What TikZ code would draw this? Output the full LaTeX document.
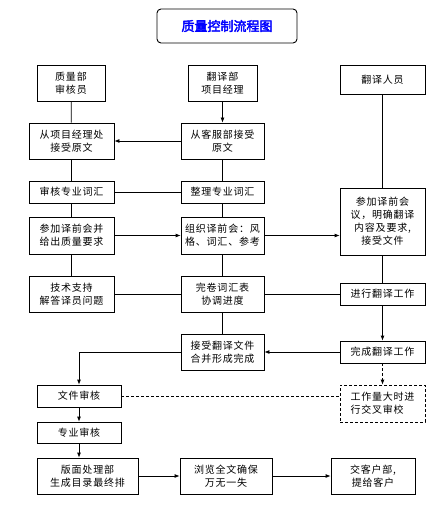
\documentclass[tikz,border=0pt]{standalone}
\usepackage{fontspec}
\newfontfamily\cjk{Noto Sans CJK SC}[AutoFakeBold=3]
\newfontfamily\cjkbox{Noto Sans CJK SC}[LetterSpace=8]
\usetikzlibrary{arrows.meta}
\tikzset{
  box/.style={draw, line width=0.8pt, inner sep=0pt, align=center, font=\cjkbox\fontsize{10}{13}\selectfont},
  dbox/.style={box, dashed, dash pattern=on 3pt off 2pt},
  conn/.style={line width=0.8pt},
  arr/.style={line width=0.8pt, -{Latex[length=5pt,width=4pt]}},
  darr/.style={arr, dash pattern=on 3pt off 2pt},
}
\begin{document}
\begin{tikzpicture}[x=1pt,y=-1pt]
\useasboundingbox (0,0) rectangle (437,513);
% title
\node[draw, line width=0.9pt, rounded corners=4pt, minimum width=140pt, minimum height=34pt, inner sep=0pt,
  font=\cjk\bfseries\fontsize{13}{15}\selectfont, text=blue] (title) at (227,26) {质量控制流程图};
% left column
\node[box, minimum width=68pt, minimum height=36pt] (b1) at (71,83) {质量部\\审核员};
\node[box, minimum width=85pt, minimum height=36pt] (b2) at (71.5,141) {从项目经理处\\接受原文};
\node[box, minimum width=85pt, minimum height=22pt] (b3) at (71.5,192) {审核专业词汇};
\node[box, minimum width=85pt, minimum height=37pt] (b4) at (71.5,235.5) {参加译前会并\\给出质量要求};
\node[box, minimum width=85pt, minimum height=36pt] (b5) at (71.5,294) {技术支持\\解答译员问题};
% middle column
\node[box, minimum width=69pt, minimum height=36pt] (m1) at (222.5,83) {翻译部\\项目经理};
\node[box, minimum width=83pt, minimum height=36pt] (m2) at (222.5,141) {从客服部接受\\原文};
\node[box, minimum width=83pt, minimum height=22pt] (m3) at (222.5,192) {整理专业词汇};
\node[box, minimum width=83pt, minimum height=37pt] (m4) at (222.5,235.5) {组织译前会：风\\格、词汇、参考};
\node[box, minimum width=83pt, minimum height=36pt] (m5) at (222.5,294) {完卷词汇表\\协调进度};
\node[box, minimum width=83pt, minimum height=36pt] (m6) at (222.5,352) {接受翻译文件\\合并形成完成};
% right column
\node[box, minimum width=85pt, minimum height=29pt] (r1) at (382.5,79.5) {翻译人员};
\node[box, minimum width=85pt, minimum height=67pt] (r2) at (382.5,221.5) {参加译前会\\议，明确翻译\\内容及要求,\\接受文件};
\node[box, minimum width=85pt, minimum height=22pt] (r3) at (382.5,294) {进行翻译工作};
\node[box, minimum width=85pt, minimum height=22pt] (r4) at (382.5,352) {完成翻译工作};
\node[dbox, minimum width=85pt, minimum height=37pt, align=left] (r5) at (382.5,403.5) {工作量大时进\\行交叉审校};
% lower left
\node[box, minimum width=84pt, minimum height=22pt] (l1) at (79,396) {文件审核};
\node[box, minimum width=84pt, minimum height=21pt] (l2) at (79,432.5) {专业审核};
% bottom row
\node[box, minimum width=101pt, minimum height=36pt] (t1) at (87.5,476) {版面处理部\\生成目录最终排};
\node[box, minimum width=92pt, minimum height=36pt] (t2) at (226,476) {浏览全文确保\\万无一失};
\node[box, minimum width=84pt, minimum height=36pt] (t3) at (373,476) {交客户部,\\提给客户};
% left column links
\draw[conn] (b1) -- (b2);
\draw[conn] (b2) -- (b3);
\draw[conn] (b3) -- (b4);
\draw[conn] (b4) -- (b5);
% middle column links
\draw[arr] (m1) -- (m2);
\draw[conn] (m2) -- (m3);
\draw[conn] (m3) -- (m4);
\draw[conn] (m4) -- (m5);
\draw[conn] (m5) -- (m6);
% right column links
\draw[conn] (r1) -- (r2);
\draw[conn] (r2) -- (r3);
\draw[arr] (r3) -- (r4);
\draw[darr] (r4) -- (r5);
% horizontal links
\draw[arr] (m2) -- (b2);
\draw[conn] (b3) -- (m3);
\draw[arr] (b4) -- (m4);
\draw[arr] (m4) -- (m4 -| r2.west);
\draw[conn] (b5) -- (m5);
\draw[conn] (m5) -- (r3);
\draw[arr] (r4) -- (m6);
\draw[arr] (m6.west) -| (l1.north);
\draw[conn, dash pattern=on 3pt off 2pt] (l1.east) -- (l1.east -| r5.west);
\draw[arr] (l1) -- (l2);
\draw[arr] (l2) -- (l2 |- t1.north);
\draw[arr] (t1) -- (t2);
\draw[arr] (t2) -- (t3);
\end{tikzpicture}
\end{document}
